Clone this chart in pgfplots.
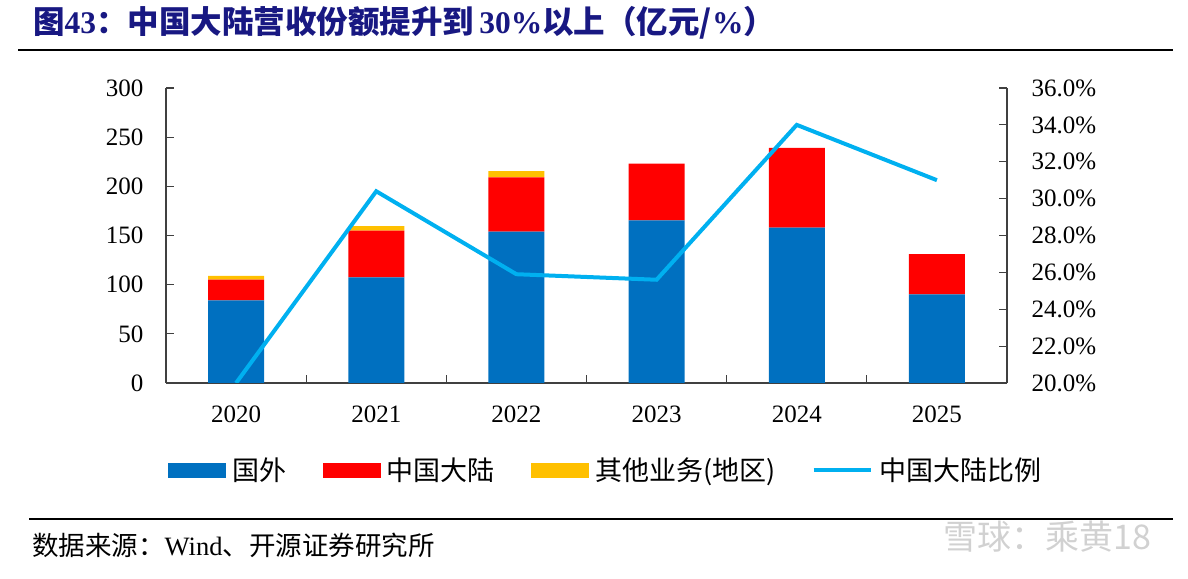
\documentclass[border=0pt]{standalone}
\usepackage{fontspec}
\setmainfont{Liberation Serif}
\newfontfamily\cjk{Noto Sans CJK SC}
\usepackage{pgfplots}
\pgfplotsset{compat=1.18}
\definecolor{barblue}{HTML}{0070C0}
\definecolor{barred}{HTML}{FF0000}
\definecolor{baryellow}{HTML}{FFC000}
\definecolor{linecyan}{HTML}{00B0F0}
\definecolor{titleblue}{RGB}{24,24,130}
\definecolor{axisgray}{RGB}{64,64,64}
\begin{document}
\begin{tikzpicture}[x=1pt,y=1pt]
\useasboundingbox (0,0) rectangle (1188,578);
% title
\node[anchor=west,inner sep=0pt,text=titleblue] at (33,555)
  {\fontsize{31.5}{36}\selectfont\bfseries{\cjk 图}43{\cjk ：中国大陆营收份额提升到}\,30\%{\cjk 以上（亿元/}\%{\cjk ）}};
\draw[black,line width=2pt] (18,528) -- (1173,528);
\draw[black,line width=2pt] (29,59) -- (1173,59);
\node[anchor=west,inner sep=0pt] at (32,33)
  {\fontsize{26.5}{30}\selectfont{\cjk 数据来源：}Wind{\cjk 、开源证券研究所}};
\node[anchor=west,inner sep=0pt,text=black!18] at (943,41)
  {\fontsize{34}{38}\selectfont\cjk 雪球：乘黄18};
\begin{axis}[
  at={(166pt,195pt)}, anchor=south west,
  scale only axis, width=841pt, height=295pt,
  ybar stacked, bar width=56pt,
  xmin=-0.5, xmax=5.5, ymin=0, ymax=300,
  ytick={0,50,...,300},
  xtick={0,1,2,3,4,5},
  xticklabels={2020,2021,2022,2023,2024,2025},
  minor xtick={0.5,1.5,2.5,3.5,4.5},
  separate axis lines,
  axis x line*=bottom, axis y line*=left,
  x axis line style={-, axisgray, line width=1.4pt},
  y axis line style={-, axisgray, line width=1.4pt},
  tick align=inside,
  xtick pos=bottom, ytick pos=left,
  major tick length=8pt, minor tick length=8pt,
  major x tick style={draw=none},
  minor x tick style={axisgray, line width=1.2pt},
  ytick style={axisgray, line width=1.2pt},
  ticklabel style={font=\fontsize{25}{28}\selectfont},
  /pgf/number format/assume math mode=true,
  yticklabel style={xshift=-19pt},
  xticklabel style={yshift=-19pt},
]
\addplot[fill=barblue, draw=none] coordinates {(0,84) (1,107.5) (2,154) (3,165.5) (4,158) (5,90)};
\addplot[fill=barred, draw=none] coordinates {(0,21) (1,47.5) (2,55) (3,57.5) (4,81) (5,41)};
\addplot[fill=baryellow, draw=none] coordinates {(0,4) (1,4.5) (2,6.5) (3,0) (4,0) (5,0)};
\end{axis}
\begin{axis}[
  at={(166pt,195pt)}, anchor=south west,
  scale only axis, width=841pt, height=295pt,
  xmin=-0.5, xmax=5.5, ymin=20, ymax=36,
  ytick={20,22,...,36},
  axis x line=none, axis y line*=right,
  y axis line style={-, axisgray, line width=1.4pt},
  tick align=inside, ytick pos=right,
  major tick length=8pt,
  ytick style={axisgray, line width=1.2pt},
  ticklabel style={font=\fontsize{25}{28}\selectfont},
  /pgf/number format/assume math mode=true,
  yticklabel={\pgfmathprintnumber[fixed,fixed zerofill,precision=1]{\tick}\%},
  yticklabel style={xshift=21pt},
  legend columns=4,
  legend style={at={(0.523,-0.295)}, anchor=center, draw=none, fill=none,
    font=\cjk\fontsize{27}{30}\selectfont,
    /tikz/every even column/.append style={column sep=34pt},
    /tikz/every odd column/.append style={column sep=5pt}},
]
\addlegendimage{legend image code/.code={\fill[barblue] (0pt,-7pt) rectangle (57pt,7pt);}}
\addlegendentry{国外}
\addlegendimage{legend image code/.code={\fill[barred] (0pt,-7pt) rectangle (57pt,7pt);}}
\addlegendentry{中国大陆}
\addlegendimage{legend image code/.code={\fill[baryellow] (0pt,-7pt) rectangle (57pt,7pt);}}
\addlegendentry{其他业务(地区)}
\addplot[linecyan, line width=4pt, mark=none,
  legend image code/.code={\draw[linecyan, line width=4pt] (0pt,0pt) -- (57pt,0pt);}]
  coordinates {(0,20.0) (1,30.4) (2,25.9) (3,25.6) (4,34.0) (5,31.0)};
\addlegendentry{中国大陆比例}
\end{axis}
\end{tikzpicture}
\end{document}
